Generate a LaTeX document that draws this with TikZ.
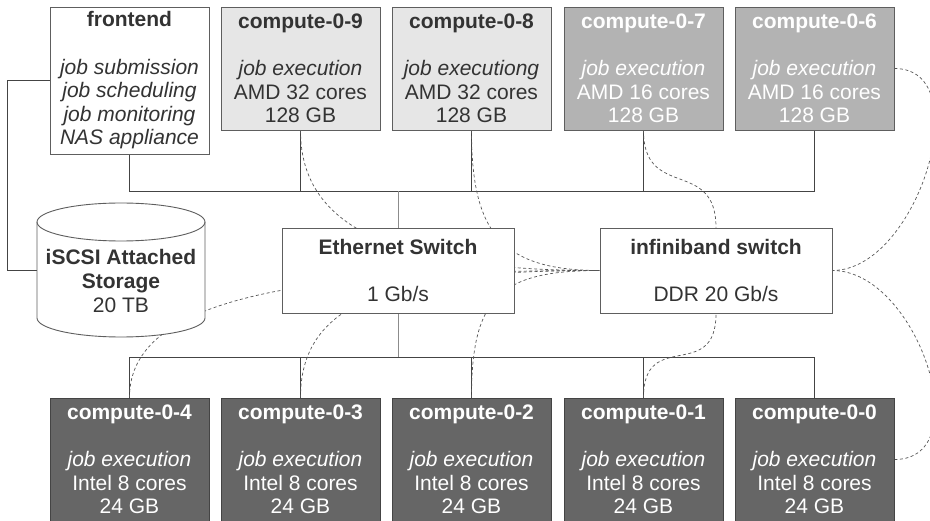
\documentclass[tikz,border=0pt]{standalone}
\usepackage{fontspec}
\setmainfont{Liberation Sans}
\usetikzlibrary{backgrounds}
\definecolor{txtc}{HTML}{333333}
\definecolor{bordc}{HTML}{5E5E5E}
\definecolor{lightf}{HTML}{E6E6E6}
\definecolor{midf}{HTML}{B3B3B3}
\definecolor{darkf}{HTML}{666666}
\definecolor{busc}{HTML}{444444}
\definecolor{esc}{HTML}{8C8C8C}
\definecolor{ibc}{HTML}{555555}
\begin{document}
\begin{tikzpicture}[x=1pt,y=-1pt,
  box/.style={draw=bordc, line width=0.9pt, minimum width=159pt, minimum height=123pt,
    inner sep=0pt, align=center, font=\fontsize{21}{23.6}\selectfont, text=txtc,
    execute at begin node={\rule{0pt}{23pt}}},
  topl/.style={box, fill=lightf},
  topm/.style={box, fill=midf, text=white},
  botd/.style={box, fill=darkf, draw=busc, text=white},
  switchbox/.style={box, fill=white, minimum width=232pt, minimum height=85pt},
  bus/.style={draw=busc, line width=0.9pt},
  esline/.style={draw=esc, line width=0.9pt},
  ibline/.style={draw=ibc, line width=0.7pt, dash pattern=on 3pt off 2.5pt}]
\useasboundingbox (0,0) rectangle (930,521);

% top row
\node[box, fill=white, minimum height=147pt] (fe) at (129.5,80.5)
  {\textbf{frontend}\\[23.6pt]\textit{job submission}\\\textit{job scheduling}\\\textit{job monitoring}\\\textit{NAS appliance}};
\node[topl] (c9) at (300.5,68.5) {\textbf{compute-0-9}\\[23.6pt]\textit{job execution}\\AMD 32 cores\\128 GB};
\node[topl] (c8) at (471.5,68.5) {\textbf{compute-0-8}\\[23.6pt]\textit{job executiong}\\AMD 32 cores\\128 GB};
\node[topm] (c7) at (643.5,68.5) {\textbf{compute-0-7}\\[23.6pt]\textit{job execution}\\AMD 16 cores\\128 GB};
\node[topm] (c6) at (814.5,68.5) {\textbf{compute-0-6}\\[23.6pt]\textit{job execution}\\AMD 16 cores\\128 GB};

% bottom row
\node[botd] (c4) at (129.5,459.5) {\textbf{compute-0-4}\\[23.6pt]\textit{job execution}\\Intel 8 cores\\24 GB};
\node[botd] (c3) at (300.5,459.5) {\textbf{compute-0-3}\\[23.6pt]\textit{job execution}\\Intel 8 cores\\24 GB};
\node[botd] (c2) at (471.5,459.5) {\textbf{compute-0-2}\\[23.6pt]\textit{job execution}\\Intel 8 cores\\24 GB};
\node[botd] (c1) at (643.5,459.5) {\textbf{compute-0-1}\\[23.6pt]\textit{job execution}\\Intel 8 cores\\24 GB};
\node[botd] (c0) at (814.5,459.5) {\textbf{compute-0-0}\\[23.6pt]\textit{job execution}\\Intel 8 cores\\24 GB};

% switches
\node[switchbox] (es) at (398,270.5) {\textbf{Ethernet Switch}\\[23.6pt]1 Gb/s};
\node[switchbox] (ib) at (716,270.5) {\textbf{infiniband switch}\\[23.6pt]DDR 20 Gb/s};

% storage cylinder
\filldraw[fill=white, draw=bordc, line width=0.9pt]
  (37,222) -- (37,318)
  .. controls (37,328.5) and (74.6,337) .. (121,337)
  .. controls (167.4,337) and (205,328.5) .. (205,318)
  -- (205,222)
  .. controls (205,211.5) and (167.4,203) .. (121,203)
  .. controls (74.6,203) and (37,211.5) .. (37,222) -- cycle;
\draw[draw=bordc, line width=0.9pt]
  (37,222) .. controls (37,232.5) and (74.6,241) .. (121,241)
  .. controls (167.4,241) and (205,232.5) .. (205,222);
\node[minimum width=168pt, minimum height=134pt, inner sep=0pt] (stor) at (121,270) {};
\node[align=center, inner sep=0pt, font=\fontsize{21}{23.6}\selectfont, text=txtc] (stortext) at (121,281)
  {\textbf{iSCSI Attached}\\\textbf{Storage}\\20 TB};

\begin{scope}[on background layer]
\clip (0,0) rectangle (930,521);
\coordinate (tb) at (398,191);
\coordinate (bb) at (398,357);
\coordinate (lx) at (7,80.5);
% ethernet buses
\draw[bus] (fe.south) |- (c6.south |- tb) -- (c6.south);
\foreach \n in {c9,c8,c7} \draw[bus] (\n.south) -- (\n.south |- tb);
\draw[esline] (es.north) -- (es.north |- tb);
\draw[bus] (c4.north) |- (c0.north |- bb) -- (c0.north);
\foreach \n in {c3,c2,c1} \draw[bus] (\n.north) -- (\n.north |- bb);
\draw[esline] (es.south) -- (es.south |- bb);
\draw[bus] (fe.west) -- (lx) |- (stor.west);
% infiniband links
\draw[ibline] (c9.south) .. controls +(0,100) and +(-200,0) .. (ib.west);
\draw[ibline] (c8.south) .. controls +(0,100) and +(-100,0) .. (ib.west);
\draw[ibline] (c3.north) .. controls +(0,-100) and +(-200,0) .. (ib.west);
\draw[ibline] (c2.north) .. controls +(0,-100) and +(-100,0) .. (ib.west);
\draw[ibline] (c4.north) .. controls +(0,-100) and +(-300,0) .. (ib.west);
\draw[ibline] (c7.south) .. controls +(0,70) and +(0,-70) .. (ib.north);
\draw[ibline] (c1.north) .. controls +(0,-70) and +(0,70) .. (ib.south);
\draw[ibline] (c6.east) .. controls +(85,0) and +(85,0) .. (ib.east);
\draw[ibline] (c0.east) .. controls +(85,0) and +(85,0) .. (ib.east);
\end{scope}
\end{tikzpicture}
\end{document}
